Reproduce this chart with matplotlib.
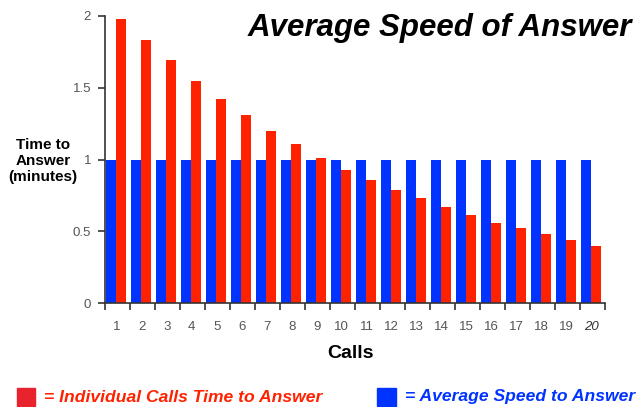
import matplotlib
matplotlib.use("Agg")
import matplotlib.pyplot as plt
import numpy as np

plt.rcParams['font.family'] = ['Liberation Sans', 'DejaVu Sans']

calls = list(range(1, 21))
individual = [1.98, 1.83, 1.69, 1.55, 1.42, 1.31, 1.20, 1.11, 1.01, 0.93,
              0.86, 0.79, 0.73, 0.67, 0.61, 0.56, 0.52, 0.48, 0.44, 0.40]
average = [1.0] * 20
y_ticks = [0, 0.5, 1, 1.5, 2]
y_tick_labels = ["0", "0.5", "1", "1.5", "2"]

red = "#ff2200"
blue = "#0033ff"

fig = plt.figure(figsize=(6.38, 4.07), dpi=100)
ax = fig.add_axes([105 / 638, 1 - 303 / 407, 500 / 638, 287 / 407])

x = np.arange(len(calls))
ax.bar(x + 0.04, average, width=0.4, align='edge', color=blue, linewidth=0)
ax.bar(x + 0.44, individual, width=0.4, align='edge', color=red, linewidth=0)

ax.set_xlim(0, 20)
ax.set_ylim(0, 2)
for s in ['top', 'right']:
    ax.spines[s].set_visible(False)
for s in ['left', 'bottom']:
    ax.spines[s].set_color('#333333')
    ax.spines[s].set_linewidth(1.2)

ax.set_yticks(y_ticks)
ax.set_yticklabels(y_tick_labels, fontsize=9.5, color='#555555')
ax.tick_params(axis='y', length=5, width=1.2, color='#333333', pad=5)

ax.set_xticks(np.arange(0, 21))
ax.set_xticklabels([])
ax.tick_params(axis='x', length=5, width=1.2, color='#333333')
for i, c in enumerate(calls):
    ax.text(i + 0.47, -0.165, str(c), ha='center', va='center', fontsize=9.5,
            color='#333333' if c == 20 else '#555555',
            style='italic' if c == 20 else 'normal')

fig.text(440 / 638, 1 - 28 / 407, "Average Speed of Answer", ha='center', va='center',
         fontsize=22.5, fontweight='bold', style='italic', color='black')
fig.text(43 / 638, 1 - 161 / 407, "Time to\nAnswer\n(minutes)", ha='center', va='center',
         fontsize=11, fontweight='bold', color='black', linespacing=1.15)
fig.text(350 / 638, 1 - 354 / 407, "Calls", ha='center', va='center',
         fontsize=14, fontweight='bold', color='black')

# legend at the bottom
fig.patches.append(plt.Rectangle((17 / 638, 1 - 406 / 407), 18 / 638, 18 / 407,
                                 transform=fig.transFigure, color="#e8232e"))
fig.text(44 / 638, 1 - 397 / 407, "= Individual Calls Time to Answer", ha='left', va='center',
         fontsize=12.6, fontweight='bold', style='italic', color=red)
fig.patches.append(plt.Rectangle((377 / 638, 1 - 406 / 407), 19 / 638, 18 / 407,
                                 transform=fig.transFigure, color=blue))
fig.text(405 / 638, 1 - 397 / 407, "= Average Speed to Answer", ha='left', va='center',
         fontsize=12.6, fontweight='bold', style='italic', color=blue)

fig.savefig("out.png", dpi=100)
